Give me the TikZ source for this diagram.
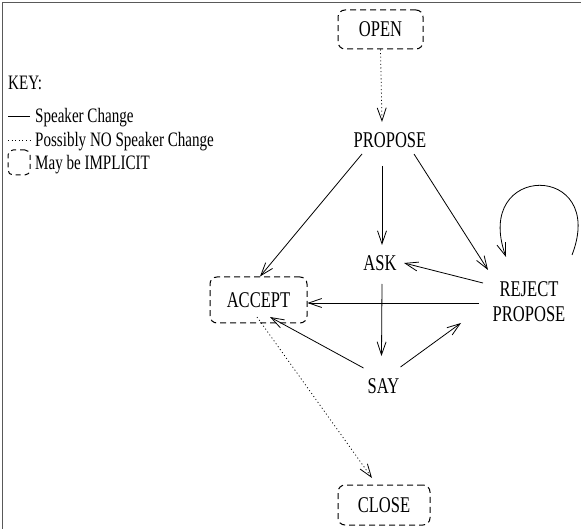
\documentclass[tikz,border=0pt]{standalone}
\usepackage{fontspec}
\setmainfont{Liberation Serif}[FakeStretch=0.735]
\usetikzlibrary{arrows.meta,calc}
\begin{document}
\begin{tikzpicture}[x=1pt,y=-1pt,
  every node/.style={font=\fontsize{22.5}{25}\selectfont, inner sep=0pt},
  lbl/.style={align=center},
  keytext/.style={anchor=base west, font=\fontsize{20.5}{23}\selectfont},
  imp/.style={draw, dash pattern=on 6pt off 4pt, rounded corners=7pt, line width=1pt},
  conn/.style={line width=0.8pt, -{Straight Barb[length=13pt,width=9pt,line width=0.8pt]}},
  dotconn/.style={conn, dash pattern=on 1pt off 2.6pt},
  frame/.style={draw=black!65, line width=1.4pt}
]
\useasboundingbox (0,0) rectangle (581,529);
\draw[frame] (2.5,529) -- (2.5,2.5) -- (581,2.5);

% legend
\node[keytext] (key) at (8,90) {KEY:};
\coordinate (sa) at (8,116); \coordinate (sb) at (30,116);
\draw[line width=0.8pt] (sa) -- (sb);
\node[keytext] (ksc) at (35,123) {Speaker Change};
\coordinate (da) at (8,140); \coordinate (db) at (30,140);
\draw[line width=0.8pt, dash pattern=on 1pt off 2.6pt] (da) -- (db);
\node[keytext] (kno) at (35,147) {Possibly NO Speaker Change};
\node[imp, minimum width=22pt, minimum height=25pt, rounded corners=5pt, dash pattern=on 5pt off 4pt] (kbox) at (19,162.5) {};
\node[keytext] (kimp) at (35,170) {May be IMPLICIT};

% nodes
\node[imp, minimum width=85pt, minimum height=39pt] (open) at (380.5,29.5) {OPEN};
\node[lbl] (propose) at (390,140) {PROPOSE};
\node[lbl] (ask) at (380,263) {ASK};
\node[lbl] (rp) at (529,302) {REJECT\\PROPOSE};
\node[imp, minimum width=97pt, minimum height=46pt] (accept) at (258.5,300) {ACCEPT};
\node[lbl] (say) at (383.5,386) {SAY};
\node[imp, minimum width=92pt, minimum height=40pt] (close) at (384,505) {CLOSE\hspace{10pt}};

% connectors
\draw[dotconn] (open.south) -- ($(propose)+(-8,-18)$);
\draw[conn] ($(propose)+(-28,14)$) -- ($(accept.north)+(1.5,0)$);
\draw[conn] ($(propose)+(-8,26)$) -- ($(ask)+(2,-18)$);
\draw[conn] ($(propose)+(24,14)$) -- ($(rp)+(-41,-32)$);
\draw[conn] ($(rp)+(-46,-19)$) -- ($(ask)+(24,0)$);
\draw[conn] ($(rp)+(-50,1)$) -- ($(accept.east)+(0,3)$);
\draw[conn] ($(ask)+(2,21)$) -- ($(say)+(-2,-30)$);
\draw[conn] ($(say)+(-20,-18)$) -- ($(accept)+(11.5,17)$);
\draw[conn] ($(say)+(17,-19)$) -- ($(rp)+(-68,21)$);
\draw[dotconn] ($(accept)+(-1.5,17)$) -- ($(close)+(-12,-27)$);
\draw[conn] ($(rp)+(43,-47)$) .. controls ($(rp)+(79,-140)$) and ($(rp)+(-57,-140)$) .. ($(rp)+(-23,-45)$);
\end{tikzpicture}
\end{document}
